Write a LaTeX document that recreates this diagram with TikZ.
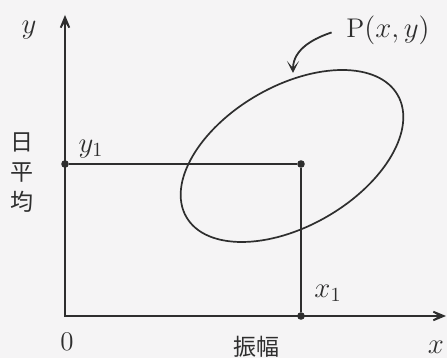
\documentclass[tikz,border=0pt]{standalone}
\usepackage{fontspec}
\usepackage{tikz}
\usetikzlibrary{arrows.meta,shapes.geometric}
\newfontfamily\jp{Noto Sans CJK JP}
\definecolor{ink}{HTML}{2E2E2E}
\definecolor{paper}{HTML}{F5F4F5}

\begin{document}
\begin{tikzpicture}[x=0.5pt,y=0.5pt,
  every node/.style={font=\fontsize{13.5}{15}\selectfont,text=ink},
  axis/.style={{Stealth[length=12pt,width=10pt,inset=8.5pt]}-{Stealth[length=12pt,width=10pt,inset=8.5pt]},line width=1.3pt,ink},
  guide/.style={line width=1pt,ink},
  dot/.style={circle,fill=ink,inner sep=0pt,minimum size=3.8pt},
  kanji/.style={font=\jp\fontsize{11.5}{15}\selectfont,text=ink},
  pointer/.style={-{Stealth[length=6pt,width=6pt,inset=3.5pt]},line width=0.9pt,ink,shorten <=4pt}]
\fill[paper] (0,0) rectangle (447,358);
\useasboundingbox (0,0) rectangle (447,358);
% axes
\coordinate (O) at (65,42);
\coordinate (ytop) at (65,343);
\coordinate (xend) at (446,42);
\draw[axis] (ytop) -- (O) -- (xend);
% the point and its projections
\node[dot] (Q) at (301,194) {};
\node[dot] (Y1) at (65,194) {};
\node[dot] (X1) at (301,42) {};
\draw[guide] (Y1) -- (Q) -- (X1);
% distribution
\node[draw=ink,line width=0.85pt,ellipse,inner sep=0pt,minimum width=122pt,minimum height=70pt,rotate=30] (E) at (292,202) {};
\coordinate (ptip) at (293,285);
% labels
\node[font=\fontsize{15}{17}\selectfont] (ylab) at (29,328) {$y$};
\node (plab) at (388,328) {P$(x,y)$};
\node[font=\fontsize{14.5}{17}\selectfont] (y1lab) at (91,209) {$y_1$};
\node[font=\fontsize{14.5}{17}\selectfont] (x1lab) at (328,65) {$x_1$};
\node (zero) at (67,16) {0};
\node[kanji] (xname) at (257,11) {振幅};
\node[font=\fontsize{15}{17}\selectfont] (xlab) at (436,11) {$x$};
\node[kanji,align=center] (yname) at (22,185) {日\\平\\均};
\draw[pointer] (plab.west) to[out=198,in=90] (ptip);
\end{tikzpicture}
\end{document}
